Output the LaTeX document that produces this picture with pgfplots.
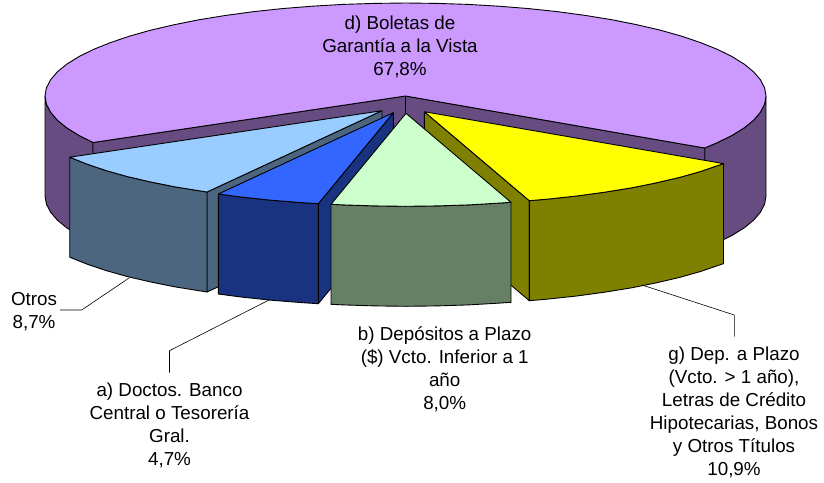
\documentclass[border=0pt]{standalone}
\usepackage{fontspec}
\setmainfont{Liberation Sans}
\usepackage{pgfplots}
\pgfplotsset{compat=1.18}
\definecolor{lila}{HTML}{CC99FF}\definecolor{lilaw}{HTML}{664C80}
\definecolor{celeste}{HTML}{99CCFF}\definecolor{celestew}{HTML}{4C6680}
\definecolor{azul}{HTML}{3366FF}\definecolor{azulw}{HTML}{193380}
\definecolor{verde}{HTML}{CCFFCC}\definecolor{verdew}{HTML}{668066}
\definecolor{amar}{HTML}{FFFF00}\definecolor{amarw}{HTML}{808000}
\tikzset{lab/.style={font=\fontsize{18.8}{23}\selectfont, align=center, text=black, inner sep=0pt}}
\begin{document}
\begin{tikzpicture}[x=1pt,y=1pt]
\path[use as bounding box] (0,0) rectangle (824,482);
\begin{axis}[
    at={(0,0)}, anchor=south west,
    scale only axis, width=824pt, height=482pt,
    xmin=0, xmax=824, ymin=0, ymax=482,
    y dir=reverse, hide axis, clip=false,
    every axis plot/.append style={draw=black, line width=0.9pt, line join=round},
]
% d) back slice: outer walls, inner walls, top
\addplot[fill=lilaw] coordinates {(93,142.5)(78.8,135.3)(66.7,127.8)(57.3,120.1)(50.5,112.1)(46.4,104.1)(45,96)(45,196)(46.4,204.1)(50.5,212.1)(57.3,220.1)(66.7,227.8)(78.8,235.3)(93,242.5)(93,142.5)};
\addplot[fill=lilaw] coordinates {(704.7,148)(717.7,142.5)(732.2,135.3)(744.3,127.8)(753.7,120.1)(760.5,112.1)(764.6,104.1)(766,96)(766,196)(764.6,204.1)(760.5,212.1)(753.7,220.1)(744.3,227.8)(732.2,235.3)(717.7,242.5)(704.7,248)(704.7,148)};
\addplot[fill=lilaw] coordinates {(93,142.5)(405.5,96)(405.5,196)(93,242.5)(93,142.5)};
\addplot[fill=lilaw] coordinates {(704.7,148)(405.5,96)(405.5,196)(704.7,248)(704.7,148)};
\addplot[fill=lila] coordinates {(704.7,148)(717.7,142.5)(732.2,135.3)(744.3,127.8)(753.7,120.1)(760.5,112.1)(764.6,104.1)(766,96)(764.6,87.9)(760.5,79.9)(753.7,71.9)(744.3,64.2)(732.2,56.7)(717.7,49.5)(700.8,42.7)(681.7,36.2)(660.4,30.2)(637.2,24.8)(612.3,19.8)(585.8,15.5)(557.9,11.7)(528.8,8.6)(498.8,6.2)(468.1,4.4)(436.9,3.4)(405.5,3)(374.1,3.4)(342.9,4.4)(312.2,6.2)(282.2,8.6)(253.1,11.7)(225.2,15.5)(198.7,19.8)(173.8,24.8)(150.6,30.2)(129.3,36.2)(110.2,42.7)(93.3,49.5)(78.8,56.7)(66.7,64.2)(57.3,71.9)(50.5,79.9)(46.4,87.9)(45,96)(46.4,104.1)(50.5,112.1)(57.3,120.1)(66.7,127.8)(78.8,135.3)(93,142.5)(405.5,96)(704.7,148)};
% g) yellow
\addplot[fill=amarw] coordinates {(424.3,111.7)(529.3,200.7)(529.3,300.7)(424.3,211.7)(424.3,111.7)};
\addplot[fill=amarw] coordinates {(529.3,200.7)(547.6,199.1)(576.7,196)(604.6,192.2)(631.1,187.9)(656,182.9)(679.2,177.5)(700.5,171.5)(723.5,163.6)(723.5,263.6)(700.5,271.5)(679.2,277.5)(656,282.9)(631.1,287.9)(604.6,292.2)(576.7,296)(547.6,299.1)(529.3,300.7)(529.3,200.7)};
\addplot[fill=amar] coordinates {(424.3,111.7)(529.3,200.7)(547.6,199.1)(576.7,196)(604.6,192.2)(631.1,187.9)(656,182.9)(679.2,177.5)(700.5,171.5)(723.5,163.6)(424.3,111.7)};
% Otros
\addplot[fill=celestew] coordinates {(207,192)(382,110.7)(382,210.7)(207,292)(207,192)};
\addplot[fill=celestew] coordinates {(69.7,157.2)(86.7,164)(105.8,170.5)(127.1,176.5)(150.3,181.9)(175.2,186.9)(207,192)(207,292)(175.2,286.9)(150.3,281.9)(127.1,276.5)(105.8,270.5)(86.7,264)(69.7,257.2)(69.7,157.2)};
\addplot[fill=celeste] coordinates {(382,110.7)(69.7,157.2)(86.7,164)(105.8,170.5)(127.1,176.5)(150.3,181.9)(175.2,186.9)(207,192)(382,110.7)};
% a) blue
\addplot[fill=azulw] coordinates {(318.3,203.7)(393.3,112.7)(393.3,212.7)(318.3,303.7)(318.3,203.7)};
\addplot[fill=azulw] coordinates {(218.3,194)(240.9,197)(270,200.1)(300,202.5)(318.3,203.7)(318.3,303.7)(300,302.5)(270,300.1)(240.9,297)(218.3,294)(218.3,194)};
\addplot[fill=azul] coordinates {(393.3,112.7)(218.3,194)(240.9,197)(270,200.1)(300,202.5)(318.3,203.7)(393.3,112.7)};
% b) green
\addplot[fill=verdew] coordinates {(331,204.3)(343.4,204.9)(374.6,205.9)(406,206.3)(437.4,205.9)(468.6,204.9)(499.3,203.1)(511,202.3)(511,302.3)(499.3,303.1)(468.6,304.9)(437.4,305.9)(406,306.3)(374.6,305.9)(343.4,304.9)(331,304.3)(331,204.3)};
\addplot[fill=verde] coordinates {(406,113.3)(331,204.3)(343.4,204.9)(374.6,205.9)(406,206.3)(437.4,205.9)(468.6,204.9)(499.3,203.1)(511,202.3)(406,113.3)};
% leader lines
\addplot[line width=0.6pt] coordinates {(129,278)(81.7,310)(60,310)};
\addplot[line width=0.6pt] coordinates {(269,300)(169.5,350.7)(169.5,372.7)};
\addplot[line width=0.6pt] coordinates {(642,285)(734.3,315)(734.3,336.7)};
% labels
\node[lab] at (axis cs:400,47) {d) Boletas de\\Garantía a la Vista\\67,8\%};
\node[lab] at (axis cs:34,312) {Otros\\8,7\%};
\node[lab] at (axis cs:169.5,425) {a) Doctos. Banco\\Central o Tesorería\\Gral.\\4,7\%};
\node[lab] at (axis cs:444.7,369) {b) Depósitos a Plazo\\(\$) Vcto. Inferior a 1\\año\\8,0\%};
\node[lab] at (axis cs:734,412) {g) Dep. a Plazo\\(Vcto. > 1 año),\\Letras de Crédito\\Hipotecarias, Bonos\\y Otros Títulos\\10,9\%};
\end{axis}
\end{tikzpicture}
\end{document}
